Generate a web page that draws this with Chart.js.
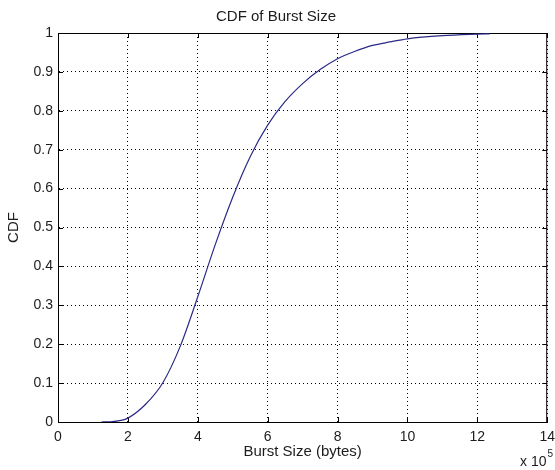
<!DOCTYPE html>
<html>
<head>
<meta charset="utf-8">
<title>CDF of Burst Size</title>
<script src="https://cdn.jsdelivr.net/npm/chart.js@4/dist/chart.umd.min.js"></script>
<style>
  html, body { margin: 0; padding: 0; background: #fff; overflow: hidden; }
  #wrap { width: 555px; height: 470px; overflow: hidden; }
  canvas { display: block; }
</style>
</head>
<body>
<div id="wrap"><canvas id="cdf" width="562" height="470"></canvas></div>
<script>
// burst size in units of 1e5 bytes, and the cumulative fraction at that size
const burstSize = [1.24, 1.5, 1.8, 2.0, 2.5, 3.0, 3.5, 4.0, 4.5, 5.0, 5.5, 6.0, 6.5,
                   7.0, 7.5, 8.0, 8.5, 9.0, 9.5, 10.0, 11.0, 12.0, 12.35];
const cdf       = [0, 0.0005, 0.004, 0.01, 0.045, 0.101, 0.195, 0.322, 0.456, 0.578, 0.682, 0.763, 0.824,
                   0.870, 0.906, 0.934, 0.953, 0.968, 0.977, 0.985, 0.993, 0.997, 0.998];

const xTicks = [0, 2, 4, 6, 8, 10, 12, 14];
const yTicks = [0, 0.1, 0.2, 0.3, 0.4, 0.5, 0.6, 0.7, 0.8, 0.9, 1];

const FONT = "'Liberation Sans', Arial, Helvetica, sans-serif";
const INK = '#1c1c1c';

Chart.defaults.font.family = FONT;
Chart.defaults.color = INK;

// matlab-style box: top/right edges plus short inward ticks on all four sides
const boxTicks = {
  id: 'boxTicks',
  beforeDatasetsDraw(chart) {
    const { ctx, chartArea: a, scales: { x, y } } = chart;
    const len = 5;
    ctx.save();
    ctx.strokeStyle = '#000';
    ctx.lineWidth = 1;
    ctx.beginPath();
    ctx.moveTo(a.left, a.top + 0.5);
    ctx.lineTo(a.right, a.top + 0.5);
    ctx.moveTo(a.right - 0.5, a.top);
    ctx.lineTo(a.right - 0.5, a.bottom);
    xTicks.forEach(v => {
      const px = Math.round(x.getPixelForValue(v)) + 0.5;
      ctx.moveTo(px, a.bottom); ctx.lineTo(px, a.bottom - len);
      ctx.moveTo(px, a.top);    ctx.lineTo(px, a.top + len);
    });
    yTicks.forEach(v => {
      const py = Math.round(y.getPixelForValue(v)) + 0.5;
      ctx.moveTo(a.left, py);  ctx.lineTo(a.left + len, py);
      ctx.moveTo(a.right, py); ctx.lineTo(a.right - len, py);
    });
    ctx.stroke();
    ctx.restore();
  },
  afterDraw(chart) {
    // exponent note under the right end of the x axis
    const { ctx } = chart;
    ctx.save();
    ctx.fillStyle = INK;
    ctx.textBaseline = 'alphabetic';
    ctx.font = '14px ' + FONT;
    ctx.fillText('x 10', 520, 466);
    const w = ctx.measureText('x 10').width;
    ctx.font = '10px ' + FONT;
    ctx.fillText('5', 520 + w + 1, 457);
    ctx.restore();
  }
};

new Chart(document.getElementById('cdf'), {
  type: 'scatter',
  data: {
    datasets: [{
      label: 'CDF',
      data: burstSize.map((b, i) => ({ x: b, y: cdf[i] })),
      showLine: true,
      borderColor: '#2a2a86',
      borderWidth: 1.2,
      pointRadius: 0,
      cubicInterpolationMode: 'monotone'
    }]
  },
  options: {
    responsive: false,
    animation: false,
    layout: { padding: { left: 0, right: 10, top: 0, bottom: 0 } },
    plugins: {
      legend: { display: false },
      tooltip: { enabled: false },
      title: {
        display: true,
        text: 'CDF of Burst Size',
        color: INK,
        font: { size: 15, weight: 'normal' },
        padding: { top: 8, bottom: 7 }
      }
    },
    scales: {
      x: {
        type: 'linear',
        min: 0, max: 14,
        afterBuildTicks: s => { s.ticks = xTicks.map(v => ({ value: v })); },
        afterFit: s => { s.height = 48; },
        grid: { color: '#000', lineWidth: 1, drawTicks: false },
        border: { display: true, color: '#000', width: 1, dash: [1, 3] },
        ticks: { padding: 7, font: { size: 14 }, color: INK, maxRotation: 0 },
        title: {
          display: true,
          text: 'Burst Size (bytes)',
          color: INK,
          font: { size: 15 },
          padding: { top: 0, bottom: 9 }
        }
      },
      y: {
        type: 'linear',
        min: 0, max: 1,
        afterBuildTicks: s => { s.ticks = yTicks.map(v => ({ value: v })); },
        afterFit: s => { s.width = 58; },
        grid: { color: '#000', lineWidth: 1, drawTicks: false },
        border: { display: true, color: '#000', width: 1, dash: [1, 3] },
        ticks: {
          padding: 5, font: { size: 14 }, color: INK,
          callback: v => String(+v.toFixed(1))
        },
        title: {
          display: true,
          text: 'CDF',
          color: INK,
          font: { size: 15 },
          padding: { top: 5, bottom: 0 }
        }
      }
    }
  },
  plugins: [boxTicks]
});
</script>
</body>
</html>
